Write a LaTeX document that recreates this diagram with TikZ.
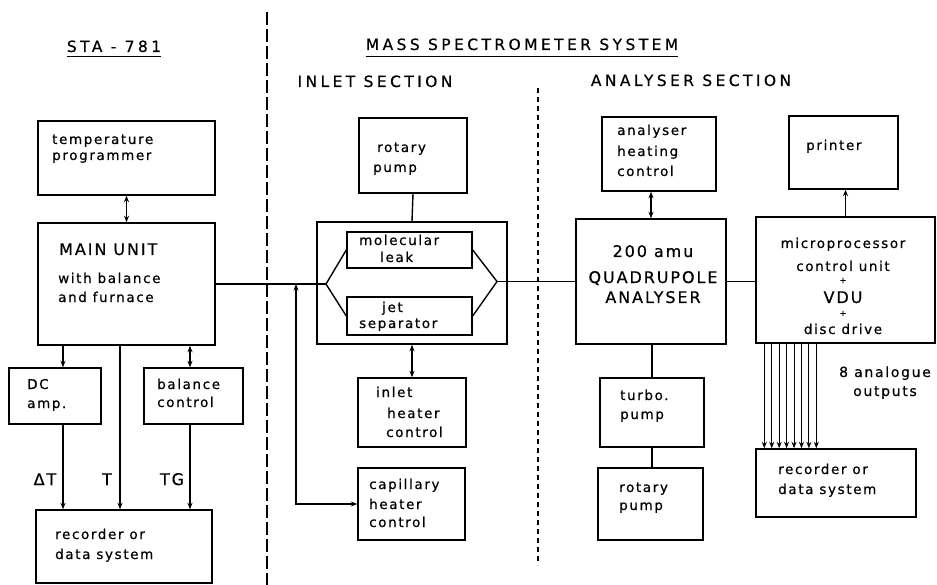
\documentclass[tikz,border=0pt]{standalone}
\usepackage{fontspec}
\setmainfont{DejaVu Sans}
\newfontfamily\lettering{DejaVu Sans}[LetterSpace=12,FakeBold=0.6]
\newfontfamily\headlettering{DejaVu Sans}[LetterSpace=22,FakeBold=0.6]
\usetikzlibrary{arrows.meta,calc}

\begin{document}
\begin{tikzpicture}[x=1pt, y=-1pt, >={Stealth[length=6.5pt,width=5pt]},
  unit/.style={draw, line width=1.4pt, inner sep=0pt},
  wire/.style={line width=1.4pt},
  lbl/.style={inner sep=0pt, anchor=base west, align=left, font={\lettering\fontsize{13.5}{19}\selectfont}},
  big/.style={inner sep=0pt, anchor=base, align=center, font={\lettering\fontsize{16}{20}\selectfont}},
  head/.style={inner sep=0pt, anchor=base, font={\headlettering\fontsize{15.5}{18}\selectfont}}]
\useasboundingbox (0,0) rectangle (937,585);

% section headings and dividers
\node[head] (sta) at (114,52) {STA - 781};
\node[head] (mss) at (522,50) {MASS SPECTROMETER SYSTEM};
\node[head] (inl) at (375,87) {INLET SECTION};
\node[head] (ana) at (691,86) {ANALYSER SECTION};
\draw[line width=1pt] ([yshift=-5pt]sta.base west) -- ([yshift=-5pt]sta.base east);
\draw[line width=1pt] ([yshift=-7pt]mss.base west) -- ([yshift=-7pt]mss.base east);
\draw[line width=1.4pt, dash pattern=on 13pt off 4pt] (267,12) -- (267,585);
\draw[line width=1.4pt, dash pattern=on 5pt off 4pt] (538,88) -- (538,565);

% STA-781
\node[unit, minimum width=177pt, minimum height=74pt] (tprog) at (126.5,158) {};
\node[unit, minimum width=177pt, minimum height=122pt] (main) at (126.5,284) {};
\node[unit, minimum width=92pt, minimum height=56pt] (dcamp) at (55,396) {};
\node[unit, minimum width=99pt, minimum height=56pt] (balctl) at (193.5,396) {};
\node[unit, minimum width=176pt, minimum height=73pt] (rec1) at (124,546.5) {};
\node[lbl] (tprog-t) at (52,160) {temperature\\[-3pt]programmer};
\node[lbl, font={\lettering\fontsize{16}{20}\selectfont}] (main-t) at (59,255) {MAIN UNIT};
\node[lbl] (main-s) at (58,302) {with balance\\and furnace};
\node[lbl] (dcamp-t) at (27,408) {DC\\amp.};
\node[lbl] (balctl-t) at (157,407) {balance\\[-1pt]control};
\node[lbl] (rec1-t) at (55,559) {recorder or\\[1pt]data system};

\draw[wire,<->] (tprog.south) -- (main.north);
\draw[wire,->] (main.south -| 63,0) -- (dcamp.north -| 63,0);
\draw[wire,<->] (main.south -| 190,0) -- (balctl.north -| 190,0);
\draw[wire,->] (dcamp.south -| 63,0) -- (rec1.north -| 63,0);
\draw[wire,->] (main.south -| 120,0) -- (rec1.north -| 120,0);
\draw[wire,->] (balctl.south -| 190,0) -- (rec1.north -| 190,0);
\node[big] (dt) at (45,485) {ΔT};
\node[big] (tt) at (107,485) {T};
\node[big] (tg) at (172,485) {TG};

% inlet section
\node[unit, minimum width=108pt, minimum height=75pt] (rpump1) at (413,155.5) {};
\node[unit, minimum width=190pt, minimum height=122pt] (inlet) at (412,283) {};
\node[unit, minimum width=125pt, minimum height=36pt] (molleak) at (409.5,250) {};
\node[unit, minimum width=125pt, minimum height=38pt] (jetsep) at (409.5,316) {};
\node[unit, minimum width=108pt, minimum height=69pt] (inheat) at (412,412.5) {};
\node[unit, minimum width=107pt, minimum height=72pt] (capheat) at (411.5,504) {};
\node[lbl] (rpump1-t) at (377,172) {rotary\\[1pt]\hspace*{-4pt}pump};
\node[lbl] (molleak-t) at (359,262) {molecular\\[-2pt]\hspace*{21pt}leak};
\node[lbl] (jetsep-t) at (359,328) {\hspace*{23pt}jet\\[-3pt]separator};
\node[lbl] (inheat-t) at (376,437) {inlet\\[2pt]\hspace*{11pt}heater\\\hspace*{10pt}control};
\node[lbl] (capheat-t) at (369,527) {capillary\\[1pt]heater\\[-1pt]control};

\coordinate (jl) at (326,284);
\coordinate (jr) at (497,281.5);
\coordinate (tap) at (296,284);
\draw[line width=2.4pt] (main.east) -- (jl);
\draw[wire] (jl) -- (molleak.west) (jl) -- (jetsep.west);
\draw[wire] (molleak.east) -- (jr) (jetsep.east) -- (jr);
\draw[wire] (rpump1.south) -- (inlet.north);
\draw[wire,<->] (inlet.south) -- (inheat.north);
\draw[wire,<->] (tap) |- (capheat.west);

% analyser section
\node[unit, minimum width=114pt, minimum height=74pt] (ahc) at (659,154) {};
\node[unit, minimum width=109pt, minimum height=73pt] (printer) at (843.5,152.5) {};
\node[unit, minimum width=150pt, minimum height=125pt] (quad) at (651,281.5) {};
\node[unit, minimum width=179pt, minimum height=126pt] (micro) at (845.5,280) {};
\node[unit, minimum width=104pt, minimum height=69pt] (turbo) at (652,412.5) {};
\node[unit, minimum width=105pt, minimum height=72pt] (rpump2) at (650.5,504) {};
\node[unit, minimum width=160pt, minimum height=68pt] (rec2) at (836,483) {};
\node[lbl] (ahc-t) at (617,176) {analyser\\[2pt]heating\\[1pt]control};
\node[lbl] (printer-t) at (806,150) {printer};
\node[big] (quad-t) at (653,303) {200 amu\\[6pt]QUADRUPOLE\\ANALYSER};
\node[big, font={\lettering\fontsize{13.5}{16}\selectfont}] (micro-t) at (843,334)
  {microprocessor\\[7pt]control unit\\[-4pt]{\footnotesize +}\\[4pt]{\fontsize{16}{16}\selectfont VDU}\\[-3pt]{\footnotesize +}\\[2pt]disc drive};
\node[lbl] (turbo-t) at (620,419) {turbo.\\pump};
\node[lbl] (rpump2-t) at (619,510) {rotary\\[-1pt]pump};
\node[lbl] (rec2-t) at (778,494) {recorder or\\[1pt]data system};
\node[big, font={\lettering\fontsize{14}{19}\selectfont}] (outs) at (885,396) {8 analogue\\outputs};

\draw[wire] (jr) -- (quad.west |- jr);
\draw[wire] (quad.east) -- (micro.west |- quad.east);
\draw[wire,<->] (ahc.south -| quad.north) -- (quad.north);
\draw[wire,->] (micro.north) -- (printer.south -| micro.north);
\draw[wire] (quad.south -| turbo.north) -- (turbo.north);
\draw[wire] (turbo.south) -- (rpump2.north -| turbo.south);
\foreach \i in {0,...,7}
  \draw[line width=1pt,->] ($(micro.south west)+(9+\i*7.43,0)$) -- ($(rec2.north west)+(9+\i*7.43,0)$);
\end{tikzpicture}
\end{document}
